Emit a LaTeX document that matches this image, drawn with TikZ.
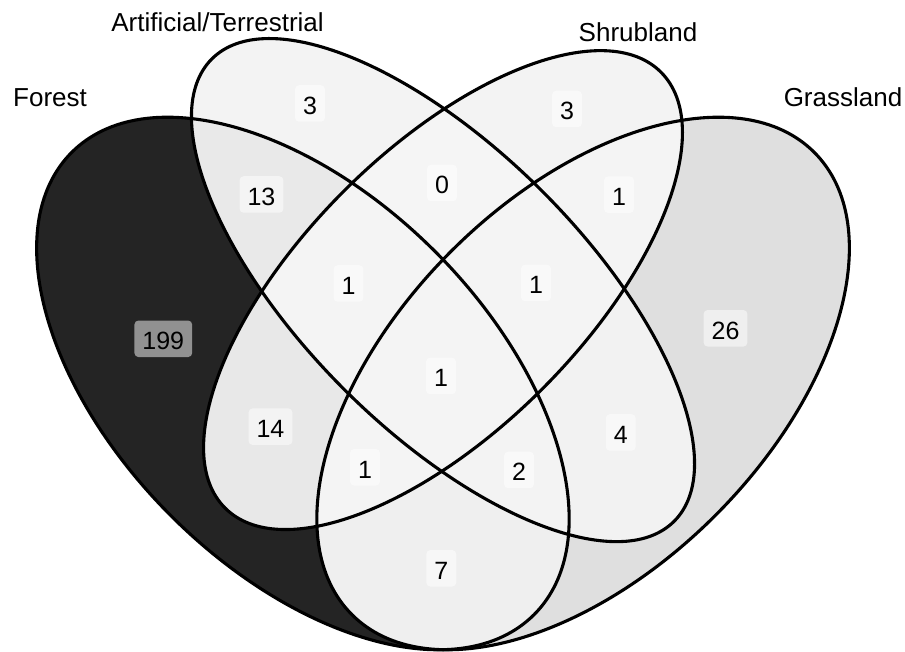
\documentclass[tikz,border=0pt]{standalone}
\usepackage{fontspec}
\setmainfont{Liberation Sans}
\definecolor{c199}{HTML}{242424}
\definecolor{c26}{HTML}{DFDFDF}
\definecolor{c14}{HTML}{E8E8E8}
\definecolor{c13}{HTML}{E9E9E9}
\definecolor{c7}{HTML}{EFEFEF}
\definecolor{c4}{HTML}{F2F2F2}
\definecolor{c3}{HTML}{F3F3F3}
\definecolor{c2}{HTML}{F3F3F3}
\definecolor{c1}{HTML}{F4F4F4}
\definecolor{c0}{HTML}{F5F5F5}
\def\Fpath{(302.9,268.5) ellipse (326.9pt and 186.8pt)}
\def\Apath{(443,361.9) ellipse (326.9pt and 140.1pt)}
\def\Spath{(443,361.9) ellipse (308.2pt and 140.1pt)}
\def\Gpath{(583.1,268.5) ellipse (326.9pt and 186.8pt)}
\newcommand\ellF{\pgfpathellipse{\pgfpoint{302.9pt}{268.5pt}}{\pgfpoint{-231.15pt}{231.15pt}}{\pgfpoint{-132.09pt}{-132.09pt}}}
\newcommand\ellA{\pgfpathellipse{\pgfpoint{443pt}{361.9pt}}{\pgfpoint{-231.15pt}{231.15pt}}{\pgfpoint{99.06pt}{99.06pt}}}
\newcommand\ellS{\pgfpathellipse{\pgfpoint{443pt}{361.9pt}}{\pgfpoint{217.93pt}{217.93pt}}{\pgfpoint{-99.06pt}{99.06pt}}}
\newcommand\ellG{\pgfpathellipse{\pgfpoint{583.1pt}{268.5pt}}{\pgfpoint{231.15pt}{231.15pt}}{\pgfpoint{-132.09pt}{132.09pt}}}
\newcommand\bigrect{\pgfpathrectangle{\pgfpoint{-200pt}{-200pt}}{\pgfpoint{1305pt}{1052pt}}}
\newcommand\inF{\ellF\pgfusepath{clip}}
\newcommand\inA{\ellA\pgfusepath{clip}}
\newcommand\inS{\ellS\pgfusepath{clip}}
\newcommand\inG{\ellG\pgfusepath{clip}}
\newcommand\exF{\bigrect\ellF\pgfusepath{clip}}
\newcommand\exA{\bigrect\ellA\pgfusepath{clip}}
\newcommand\exS{\bigrect\ellS\pgfusepath{clip}}
\newcommand\exG{\bigrect\ellG\pgfusepath{clip}}
\newcommand\vreg[5]{\begin{scope}\pgfseteorule #1#2#3#4\fill[#5] (0,0) rectangle (905,652);\end{scope}}
\tikzset{
  rotF/.style={rotate around={135:(302.9,268.5)}},
  rotA/.style={rotate around={135:(443,361.9)}},
  rotS/.style={rotate around={45:(443,361.9)}},
  rotG/.style={rotate around={45:(583.1,268.5)}},
  outline/.style={draw=black,line width=3.1pt},
  cnt/.style={fill=white,fill opacity=0.5,text opacity=1,rounded corners=4pt,
    inner xsep=8pt,inner ysep=0pt,minimum height=36.5pt,text=black,
    text height=21.5pt,text depth=0pt,
    font=\fontsize{25}{25}\selectfont},
  setname/.style={anchor=base,text=black,font=\fontsize{26}{26}\selectfont}
}
\begin{document}
\begin{tikzpicture}[x=1pt,y=1pt]
\useasboundingbox (0,0) rectangle (905,652);
\fill[white] (0,0) rectangle (905,652);
% regions
\vreg{\inF}{\exA}{\exS}{\exG}{c199}
\vreg{\exF}{\inA}{\exS}{\exG}{c3}
\vreg{\exF}{\exA}{\inS}{\exG}{c3}
\vreg{\exF}{\exA}{\exS}{\inG}{c26}
\vreg{\inF}{\inA}{\exS}{\exG}{c13}
\vreg{\inF}{\exA}{\inS}{\exG}{c14}
\vreg{\inF}{\exA}{\exS}{\inG}{c7}
\vreg{\exF}{\inA}{\inS}{\exG}{c0}
\vreg{\exF}{\inA}{\exS}{\inG}{c4}
\vreg{\exF}{\exA}{\inS}{\inG}{c1}
\vreg{\inF}{\inA}{\inS}{\exG}{c1}
\vreg{\inF}{\inA}{\exS}{\inG}{c2}
\vreg{\inF}{\exA}{\inS}{\inG}{c1}
\vreg{\exF}{\inA}{\inS}{\inG}{c1}
\vreg{\inF}{\inA}{\inS}{\inG}{c1}
% outlines
\draw[outline,rotF] \Fpath;
\draw[outline,rotA] \Apath;
\draw[outline,rotS] \Spath;
\draw[outline,rotG] \Gpath;
% set names
\node[setname] (lF) at (50,545) {Forest};
\node[setname] (lA) at (217.5,620) {Artificial/Terrestrial};
\node[setname] (lS) at (638,610.5) {Shrubland};
\node[setname] (lG) at (843,545.5) {Grassland};
% counts
\node[cnt] (nA) at (310,548.5) {3};
\node[cnt] (nS) at (567,543) {3};
\node[cnt] (nFA) at (261.5,457.5) {13};
\node[cnt] (nAS) at (442,469) {0};
\node[cnt] (nSG) at (619,457.3) {1};
\node[cnt] (nFAS) at (348.5,368.5) {1};
\node[cnt] (nASG) at (536,369) {1};
\node[cnt] (nF) at (163.3,313.2) {199};
\node[cnt] (nG) at (725.5,323.7) {26};
\node[cnt] (nAll) at (441,276) {1};
\node[cnt] (nFS) at (270.5,225.3) {14};
\node[cnt] (nFSG) at (365,184.7) {1};
\node[cnt] (nFAG) at (519,182) {2};
\node[cnt] (nAG) at (620.7,219.5) {4};
\node[cnt] (nFG) at (441.3,83.7) {7};
\end{tikzpicture}
\end{document}
